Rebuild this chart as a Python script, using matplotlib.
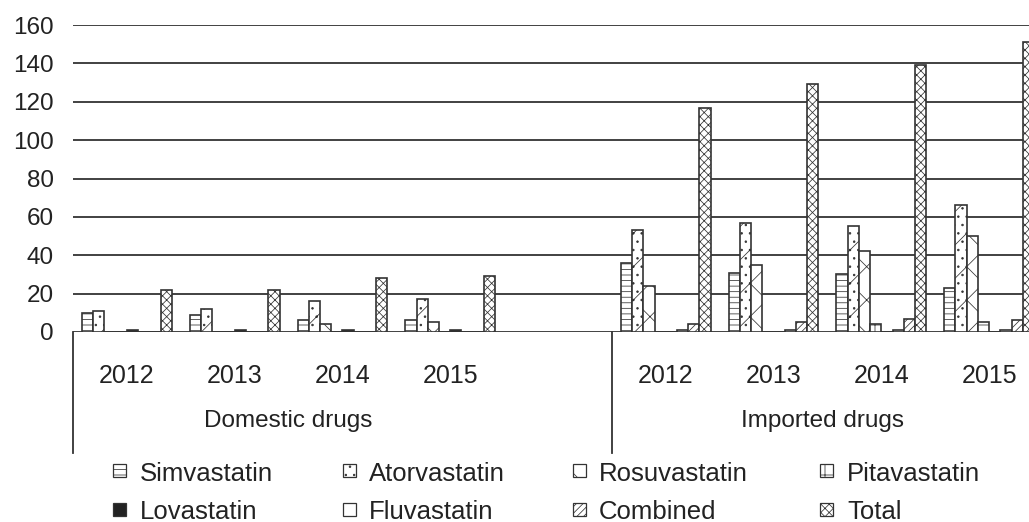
import matplotlib
matplotlib.use('Agg')
import matplotlib.pyplot as plt
from matplotlib.patches import Rectangle
import numpy as np

plt.rcParams['font.family'] = ['Liberation Sans', 'DejaVu Sans']
plt.rcParams['hatch.linewidth'] = 0.55

# data: 4 domestic years then 4 imported years
years = ['2012', '2013', '2014', '2015']
groups = ['Domestic drugs', 'Imported drugs']
drugs = ['Simvastatin', 'Atorvastatin', 'Rosuvastatin', 'Pitavastatin',
         'Lovastatin', 'Fluvastatin', 'Combined', 'Total']

simvastatin = [10, 9, 6, 6, 36, 31, 30, 23]
atorvastatin = [11, 12, 16, 17, 53, 57, 55, 66]
rosuvastatin = [0, 0, 4, 5, 24, 35, 42, 50]
pitavastatin = [0, 0, 0, 0, 0, 0, 4, 5]
lovastatin = [1, 1, 1, 1, 0, 0, 0, 0]
fluvastatin = [0, 0, 0, 0, 1, 1, 1, 1]
combined = [0, 0, 0, 0, 4, 5, 7, 6]
total = [22, 22, 28, 29, 117, 129, 139, 151]

series = [simvastatin, atorvastatin, rosuvastatin, pitavastatin,
          lovastatin, fluvastatin, combined, total]

# styles per drug: (facecolor, hatch)
styles = [('white', '---'), ('white', '/..'), ('white', 'x'), ('white', '+'),
          ('#222222', None), ('white', None), ('white', '/////'), ('white', 'xxxx')]

W, H = 1029, 522
edge = '#333333'

fig = plt.figure(figsize=(W / 100, H / 100), dpi=100)
ax = fig.add_axes([73 / W, (H - 332) / H, 970 / W, 307 / H])

xs = np.array([0, 1, 2, 3, 5, 6, 7, 8])
w = 0.104
for i, vals in enumerate(series):
    fc, hatch = styles[i]
    ax.bar(xs + (i - 3.5) * w, vals, w, color=fc, edgecolor=edge,
           hatch=hatch, linewidth=1.2, zorder=3)

ax.set_xlim(-0.5, 8.5)
ax.set_ylim(0, 160)
ax.set_yticks(np.arange(0, 161, 20))
ax.set_xticks([])
ax.tick_params(axis='y', length=0, pad=14, labelsize=17.5, labelcolor='#222222')
ax.yaxis.grid(True, color=edge, linewidth=1.3, zorder=0)
ax.set_axisbelow(True)
for s in ax.spines.values():
    s.set_visible(False)

# category labels under the axis
for k, x in enumerate(xs):
    ax.text(x, -23, years[k % 4], ha='center', va='center', fontsize=18,
            color='#222222', clip_on=False)
ax.text(1.5, -46.5, groups[0], ha='center', va='center', fontsize=17.5,
        color='#222222', clip_on=False)
ax.text(6.45, -46.5, groups[1], ha='center', va='center', fontsize=17.5,
        color='#222222', clip_on=False)
for xv in [-0.5, 4.5]:
    ax.plot([xv, xv], [0, -63], color=edge, linewidth=1.3, clip_on=False)

# legend drawn by hand, 2 rows x 4 columns
box_x = [113, 343, 573, 820]
text_x = [140, 369, 599, 847]
box_top = [464, 503]
text_base = [481, 519]
for i, name in enumerate(drugs):
    r, c = divmod(i, 4)
    fc, hatch = styles[i]
    rect = Rectangle((box_x[c] / W, 1 - (box_top[r] + 13) / H), 13 / W, 13 / H,
                     transform=fig.transFigure, facecolor=fc, edgecolor=edge,
                     hatch=hatch, linewidth=0.9)
    fig.add_artist(rect)
    fig.text(text_x[c] / W, 1 - text_base[r] / H, name, fontsize=18.5,
             color='#222222', va='baseline', ha='left')

fig.savefig('out.png', dpi=100)
